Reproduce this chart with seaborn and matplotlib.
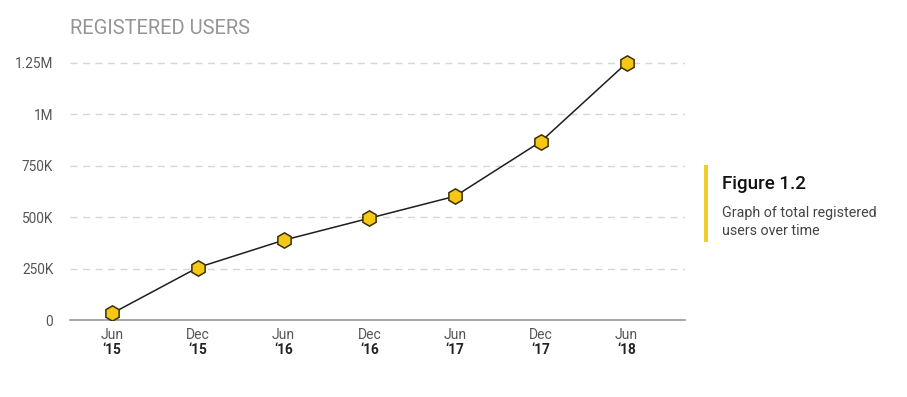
import matplotlib
matplotlib.use("Agg")
import matplotlib.pyplot as plt
import matplotlib.transforms as mtransforms
from matplotlib.patches import Rectangle
import seaborn as sns
import pandas as pd

# ---- data ----
months = ["Jun", "Dec", "Jun", "Dec", "Jun", "Dec", "Jun"]
years = ["\u201815", "\u201815", "\u201816", "\u201816", "\u201817", "\u201817", "\u201818"]
users = [32000, 255000, 388000, 495000, 602000, 868000, 1250000]
ytick_values = [0, 250000, 500000, 750000, 1000000, 1250000]
ytick_labels = ["0", "250K", "500K", "750K", "1M", "1.25M"]
title = "REGISTERED USERS"
fig_title = "Figure 1.2"
fig_desc = "Graph of total registered\nusers over time"

sns.set_theme(style="white")
plt.rcParams["font.family"] = ["Roboto", "DejaVu Sans"]

W, H = 907, 397
fig = plt.figure(figsize=(W / 100, H / 100), dpi=100)
left, right, bottom, top_px = 70, 685, 320, 52.7
ax = fig.add_axes([left / W, (H - bottom) / H, (right - left) / W, (bottom - top_px) / H])

df = pd.DataFrame({"idx": list(range(len(users))), "users": users})
sns.lineplot(data=df, x="idx", y="users", ax=ax, color="#1e1e1e", linewidth=1.1,
             marker="h", markersize=11, markerfacecolor="#f5c816",
             markeredgecolor="#3b3000", markeredgewidth=1.1, zorder=5)

ax.set_xlim(-0.49, len(users) - 1 + 0.68)
ax.set_ylim(0, 1.3e6)

ax.set_yticks(ytick_values)
ax.set_yticklabels(ytick_labels, color="#555555", fontsize=9.8)
for v in ytick_values[1:]:
    ax.axhline(v, color="#d6d6d6", linewidth=1, linestyle=(0, (5, 4)), zorder=1)

ax.set_xticks(list(range(len(users))))
ax.set_xticklabels(months, color="#555555", fontsize=10)
ax.tick_params(axis="x", length=0, pad=6)
ax.tick_params(axis="y", length=0, pad=12)
trans = mtransforms.blended_transform_factory(ax.transData, ax.transAxes)
for i, yr in enumerate(years):
    ax.text(i, -0.085, yr, transform=trans, ha="center", va="top",
            fontsize=9.8, fontweight="bold", color="#222222")

ax.set_xlabel("")
ax.set_ylabel("")
for s in ["top", "right", "left"]:
    ax.spines[s].set_visible(False)
ax.spines["bottom"].set_color("#9a9a9a")
ax.spines["bottom"].set_linewidth(1.2)

fig.text(70 / W, 1 - 28 / H, title, ha="left", va="center", fontsize=14.5,
         fontweight="normal", color="#959595")

fig.patches.append(Rectangle((704 / W, 1 - 242 / H), 3.5 / W, 77 / H,
                             transform=fig.transFigure, facecolor="#f2cd2a",
                             edgecolor="none"))
fig.text(722 / W, 1 - 184 / H, fig_title, ha="left", va="center", fontsize=13.5,
         fontweight="medium", color="#111111")
fig.text(722 / W, 1 - 222 / H, fig_desc, ha="left", va="center", fontsize=10.3,
         color="#444444", linespacing=1.4)

fig.savefig("out.png", dpi=100, facecolor="white")
